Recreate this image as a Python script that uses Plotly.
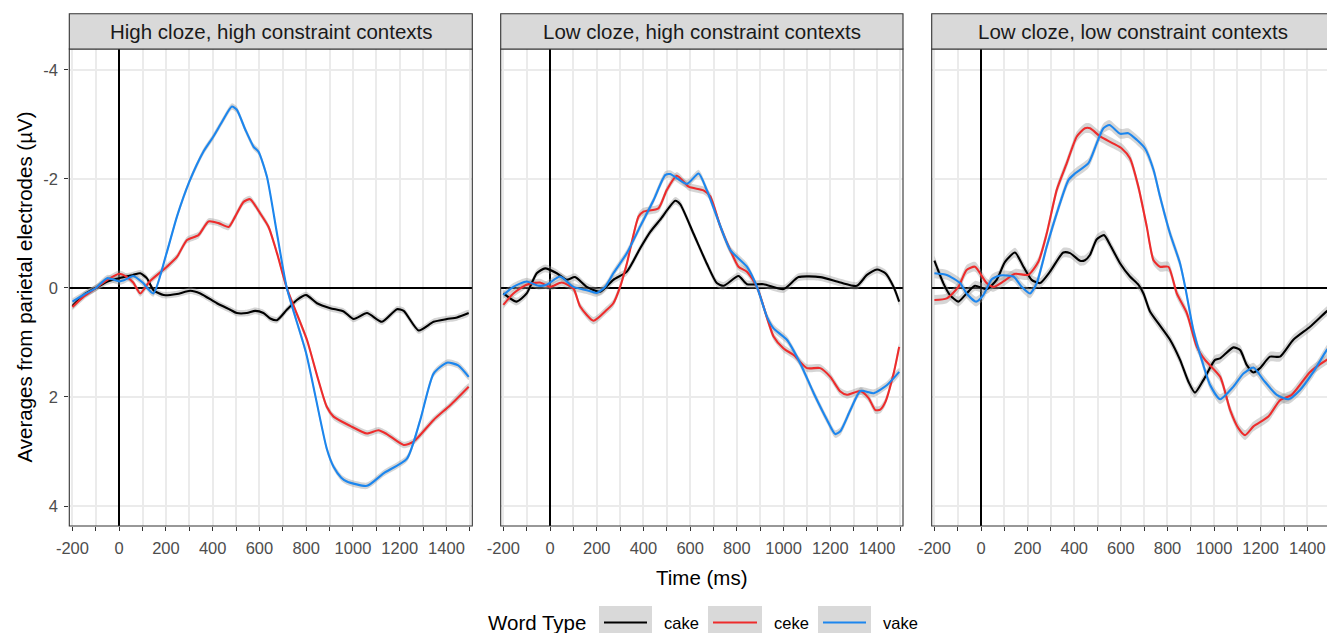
import plotly.graph_objects as go

# ---------------- data ----------------
panel_titles = ["High cloze, high constraint contexts",
                "Low cloze, high constraint contexts",
                "Low cloze, low constraint contexts"]
word_types = ["cake", "ceke", "vake"]
colors = {"cake": "#000000", "ceke": "#EE2C2C", "vake": "#1C86EE"}

# Panel 1: High cloze, high constraint
p1_cake_t = [-200,-150,-100,-50,0,60,90,118,147,190,247,304,347,418,475,503,546,582,617,646,675,717,760,800,846,903,960,1003,1060,1124,1188,1217,1281,1345,1402,1445,1495]
p1_cake_v = [0.33,0.12,0.0,-0.12,-0.18,-0.24,-0.27,-0.18,0.04,0.13,0.11,0.05,0.10,0.28,0.40,0.46,0.46,0.42,0.46,0.56,0.59,0.40,0.22,0.13,0.28,0.37,0.43,0.57,0.46,0.62,0.39,0.42,0.78,0.62,0.57,0.54,0.46]
p1_ceke_t = [-200,-150,-100,-50,0,33,60,90,130,204,247,290,339,382,425,468,496,532,560,603,639,675,717,803,846,888,917,988,1060,1109,1145,1217,1259,1345,1416,1495]
p1_ceke_v = [0.35,0.15,0.0,-0.15,-0.26,-0.2,-0.1,0.1,-0.12,-0.39,-0.57,-0.88,-0.97,-1.22,-1.19,-1.12,-1.31,-1.58,-1.63,-1.37,-1.12,-0.64,0.0,0.95,1.6,2.18,2.36,2.53,2.67,2.61,2.68,2.88,2.82,2.42,2.15,1.81]
p1_vake_t = [-200,-150,-100,-51,0,20,60,100,146,200,247,300,360,403,440,482,503,540,575,596,632,675,717,800,888,917,950,974,1060,1131,1231,1288,1345,1402,1450,1495]
p1_vake_v = [0.25,0.12,0.0,-0.18,-0.12,-0.14,-0.22,-0.1,0.1,-0.6,-1.31,-1.95,-2.5,-2.78,-3.05,-3.33,-3.27,-2.9,-2.59,-2.5,-2.04,-1.0,0.0,1.2,2.95,3.28,3.48,3.55,3.63,3.40,3.13,2.42,1.57,1.37,1.42,1.63]

# Panel 2: Low cloze, high constraint
p2_cake_t = [-200,-143,-100,-57,-21,29,71,107,157,214,271,329,386,429,471,536,557,614,671,714,743,807,843,914,1000,1064,1157,1243,1314,1357,1400,1436,1471,1495]
p2_cake_v = [0.1,0.25,0.1,-0.27,-0.36,-0.27,-0.15,-0.2,-0.02,0.07,-0.15,-0.3,-0.73,-1.03,-1.25,-1.6,-1.54,-1.0,-0.45,-0.09,-0.04,-0.22,-0.07,-0.07,0.02,-0.2,-0.2,-0.1,-0.04,-0.24,-0.34,-0.27,-0.02,0.25]
p2_ceke_t = [-200,-157,-100,-43,0,50,100,129,186,243,271,300,329,379,400,464,500,543,593,657,686,729,771,807,843,886,957,1000,1043,1100,1157,1200,1243,1271,1329,1364,1393,1414,1436,1471,1495]
p2_ceke_v = [0.31,0.1,-0.06,-0.1,-0.02,-0.1,0.01,0.34,0.6,0.4,0.28,-0.02,-0.45,-1.31,-1.4,-1.46,-1.8,-2.06,-1.86,-1.79,-1.68,-1.13,-0.7,-0.39,-0.3,-0.02,0.89,1.11,1.23,1.47,1.47,1.63,1.9,1.96,1.89,2.02,2.24,2.23,2.09,1.57,1.08]
p2_vake_t = [-200,-157,-100,-50,-14,43,100,157,200,236,271,329,386,443,493,514,586,636,671,714,771,843,886,929,957,1014,1071,1129,1186,1221,1243,1286,1329,1386,1443,1495]
p2_vake_v = [0.13,-0.02,-0.12,-0.04,-0.06,-0.21,-0.02,0.04,0.09,-0.02,-0.27,-0.64,-1.13,-1.61,-2.07,-2.09,-1.91,-2.1,-1.8,-1.31,-0.7,-0.39,-0.02,0.53,0.74,0.95,1.38,1.93,2.42,2.68,2.63,2.24,1.89,1.93,1.78,1.54]

# Panel 3: Low cloze, low constraint
p3_cake_t = [-200,-162,-133,-97,-62,-26,24,67,103,146,182,217,253,296,353,382,425,446,468,496,528,554,597,639,675,697,725,761,811,854,890,918,954,1004,1026,1083,1112,1140,1169,1197,1240,1283,1340,1412,1483,1500]
p3_cake_v = [-0.5,-0.09,0.13,0.25,0.1,-0.04,0.02,-0.15,-0.48,-0.65,-0.39,-0.15,-0.09,-0.3,-0.65,-0.64,-0.5,-0.51,-0.61,-0.89,-0.97,-0.79,-0.45,-0.21,-0.06,0.1,0.43,0.65,0.95,1.32,1.72,1.92,1.69,1.32,1.29,1.09,1.14,1.41,1.55,1.47,1.26,1.26,0.95,0.71,0.43,0.38]
p3_ceke_t = [-200,-147,-97,-62,-26,24,53,96,146,203,246,282,325,368,411,446,468,511,568,604,639,675,711,740,768,804,840,883,926,961,1026,1069,1104,1133,1169,1233,1283,1333,1412,1483,1500]
p3_ceke_v = [0.22,0.19,-0.02,-0.33,-0.39,-0.09,-0.02,-0.12,-0.26,-0.24,-0.48,-1.0,-1.8,-2.29,-2.78,-2.93,-2.93,-2.78,-2.65,-2.56,-2.38,-1.86,-1.13,-0.51,-0.39,-0.39,0.1,0.46,1.08,1.32,1.63,2.24,2.57,2.7,2.54,2.36,2.06,1.96,1.54,1.32,1.28]
p3_vake_t = [-200,-147,-90,-62,-21,10,46,82,139,175,210,239,282,325,375,403,461,496,525,551,597,632,668,704,740,768,811,854,876,911,947,983,1026,1083,1126,1169,1212,1269,1319,1369,1426,1483,1500]
p3_vake_v = [-0.27,-0.24,-0.09,0.1,0.25,0.13,-0.16,-0.23,-0.21,-0.02,0.1,-0.09,-0.76,-1.37,-1.98,-2.1,-2.29,-2.65,-2.93,-2.99,-2.83,-2.84,-2.72,-2.56,-2.17,-1.68,-1.0,-0.45,-0.02,0.77,1.32,1.78,2.04,1.81,1.57,1.46,1.69,1.96,2.04,1.87,1.54,1.14,1.05]

panels = [
    {"cake": (p1_cake_t, p1_cake_v), "ceke": (p1_ceke_t, p1_ceke_v), "vake": (p1_vake_t, p1_vake_v)},
    {"cake": (p2_cake_t, p2_cake_v), "ceke": (p2_ceke_t, p2_ceke_v), "vake": (p2_vake_t, p2_vake_v)},
    {"cake": (p3_cake_t, p3_cake_v), "ceke": (p3_ceke_t, p3_ceke_v), "vake": (p3_vake_t, p3_vake_v)},
]
# approximate standard-error half widths per panel (µV)
se_halfwidth = [0.06, 0.07, 0.09]

x_tick_vals = list(range(-200, 1501, 100))
x_tick_text = [str(v) if v % 200 == 0 else "" for v in x_tick_vals]
y_tick_vals = [-4, -2, 0, 2, 4]
y_tick_text = ["-4", "-2", "0", "2", "4"]

# ---------------- layout helpers ----------------
W, H = 1327, 633
def px(x):
    return x / W
def py(y):
    return (H - y) / H

FONT = "Liberation Sans, Arial, sans-serif"
panel_px = [(69.3, 472.3), (500.7, 903.0), (931.7, 1334.5)]
x_ranges = [[-213.5, 1510.5], [-211.3, 1511.3], [-211.6, 1484.5]]
plot_top, plot_bot = 49.0, 526.0
strip_top = 13.7
y_range = [4.367, -4.385]

fig = go.Figure()

for i, pdata in enumerate(panels):
    xa = "x" if i == 0 else f"x{i+1}"
    ya = "y" if i == 0 else f"y{i+1}"
    for wt in word_types:
        t, v = pdata[wt]
        up = [val - se_halfwidth[i] for val in v]
        lo = [val + se_halfwidth[i] for val in v]
        fig.add_trace(go.Scatter(
            x=list(t) + list(t)[::-1], y=up + lo[::-1],
            fill="toself", fillcolor="rgba(150,150,150,0.4)",
            line=dict(width=0, shape="spline", smoothing=0.6),
            mode="lines", hoverinfo="skip", showlegend=False,
            xaxis=xa, yaxis=ya))
    for wt in word_types:
        t, v = pdata[wt]
        fig.add_trace(go.Scatter(
            x=t, y=v, mode="lines", name=wt,
            line=dict(color=colors[wt], width=2.1, shape="spline", smoothing=0.6),
            showlegend=False, xaxis=xa, yaxis=ya))

layout = dict(
    width=W, height=H,
    margin=dict(l=0, r=0, t=0, b=0, autoexpand=False),
    paper_bgcolor="white", plot_bgcolor="white",
    showlegend=False,
    font=dict(family=FONT, color="#000000"),
)

for i in range(3):
    x0, x1 = panel_px[i]
    dom_x = [px(x0), min(px(x1), 1.0)]
    xkey = "xaxis" if i == 0 else f"xaxis{i+1}"
    ykey = "yaxis" if i == 0 else f"yaxis{i+1}"
    yanchor = "y" if i == 0 else f"y{i+1}"
    xanchor = "x" if i == 0 else f"x{i+1}"
    layout[xkey] = dict(
        domain=dom_x, anchor=yanchor, range=x_ranges[i], automargin=False,
        tickmode="array", tickvals=x_tick_vals, ticktext=x_tick_text,
        ticks="outside", ticklen=4, tickwidth=1.1, tickcolor="#333333",
        showgrid=True, gridcolor="#EBEBEB", gridwidth=1.7,
        zeroline=True, zerolinecolor="#000000", zerolinewidth=1.8,
        showline=False,
        tickfont=dict(family=FONT, size=16.5, color="#4D4D4D"),
        ticklabelstandoff=3,
    )
    layout[ykey] = dict(
        domain=[py(plot_bot), py(plot_top)], anchor=xanchor, range=y_range, automargin=False,
        tickmode="array", tickvals=y_tick_vals, ticktext=y_tick_text,
        ticks="outside" if i == 0 else "", ticklen=4, tickwidth=1.1, tickcolor="#333333",
        showticklabels=(i == 0),
        showgrid=True, gridcolor="#EBEBEB", gridwidth=1.7,
        zeroline=True, zerolinecolor="#000000", zerolinewidth=1.8,
        showline=False,
        tickfont=dict(family=FONT, size=16.5, color="#4D4D4D"),
        ticklabelstandoff=3,
    )

fig.update_layout(**layout)

shapes = []
annotations = []
for i in range(3):
    x0, x1 = panel_px[i]
    # panel border
    shapes.append(dict(type="rect", xref="paper", yref="paper",
                       x0=px(x0), x1=px(x1), y0=py(plot_bot), y1=py(plot_top),
                       line=dict(color="#333333", width=1.1), fillcolor="rgba(0,0,0,0)", layer="above"))
    # strip
    shapes.append(dict(type="rect", xref="paper", yref="paper",
                       x0=px(x0), x1=px(x1), y0=py(plot_top), y1=py(strip_top),
                       line=dict(color="#333333", width=1.1), fillcolor="#D9D9D9", layer="above"))
    annotations.append(dict(text=panel_titles[i], xref="paper", yref="paper",
                            x=px((x0 + x1) / 2), y=py((strip_top + plot_top) / 2),
                            xanchor="center", yanchor="middle", showarrow=False,
                            font=dict(family=FONT, size=20.5, color="#1A1A1A")))

# axis titles
annotations.append(dict(text="Time (ms)", xref="paper", yref="paper",
                        x=px((69.3 + 1334.5) / 2), y=py(577), xanchor="center", yanchor="middle",
                        showarrow=False, font=dict(family=FONT, size=20.5, color="#000000")))
annotations.append(dict(text="Averages from parietal electrodes (µV)", xref="paper", yref="paper",
                        x=px(24), y=py((plot_top + plot_bot) / 2), xanchor="center", yanchor="middle",
                        textangle=-90, showarrow=False,
                        font=dict(family=FONT, size=20.5, color="#000000")))

# legend (drawn manually, ggplot style)
leg_y = 622.5
annotations.append(dict(text="Word Type", xref="paper", yref="paper",
                        x=px(588), y=py(leg_y), xanchor="right", yanchor="middle",
                        showarrow=False, font=dict(family=FONT, size=20.5, color="#000000")))
key_boxes = [(599, 652), (708, 762), (818, 871)]
label_x = [662, 772, 881]
for (bx0, bx1), lx, wt in zip(key_boxes, label_x, word_types):
    shapes.append(dict(type="rect", xref="paper", yref="paper",
                       x0=px(bx0), x1=px(bx1), y0=py(640), y1=py(606),
                       line=dict(width=0), fillcolor="#D9D9D9", layer="above"))
    shapes.append(dict(type="line", xref="paper", yref="paper",
                       x0=px(bx0 + 5), x1=px(bx1 - 5), y0=py(leg_y), y1=py(leg_y),
                       line=dict(color=colors[wt], width=2.2), layer="above"))
    annotations.append(dict(text=wt, xref="paper", yref="paper",
                            x=px(lx), y=py(leg_y), xanchor="left", yanchor="middle",
                            showarrow=False, font=dict(family=FONT, size=16.5, color="#000000")))

fig.update_layout(shapes=shapes, annotations=annotations)
fig.write_html("out.html")
